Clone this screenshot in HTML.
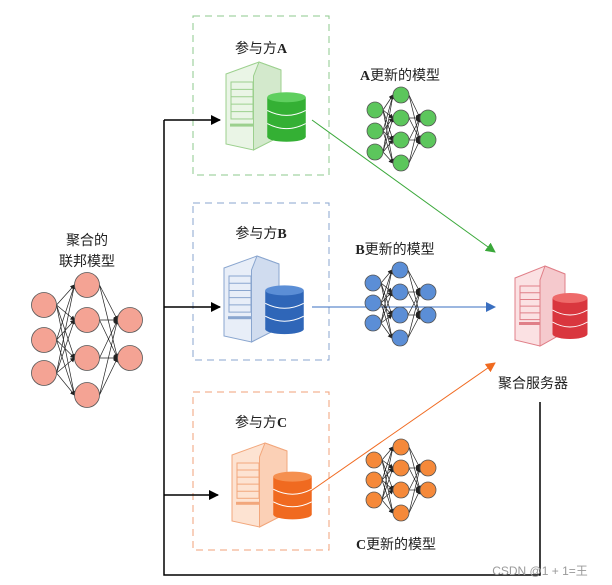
<!DOCTYPE html>
<html><head><meta charset="utf-8"><style>
body{margin:0;background:#fff;width:612px;height:585px;overflow:hidden}
svg{display:block}
text{font-family:"Liberation Serif","Noto Sans CJK SC",sans-serif;font-size:14px;fill:#222}
</style></head><body>
<svg id="s" width="612" height="585" viewBox="0 0 612 585" xmlns="http://www.w3.org/2000/svg">
<defs>
<marker id="ak" markerWidth="10" markerHeight="10" refX="9" refY="5" orient="auto" markerUnits="userSpaceOnUse"><path d="M0,0 L10,5 L0,10 z" fill="#000"/></marker>
<marker id="ag" markerWidth="10" markerHeight="10" refX="9" refY="5" orient="auto" markerUnits="userSpaceOnUse"><path d="M0,0 L10,5 L0,10 z" fill="#3aa83a"/></marker>
<marker id="ab" markerWidth="10" markerHeight="10" refX="9" refY="5" orient="auto" markerUnits="userSpaceOnUse"><path d="M0,0 L10,5 L0,10 z" fill="#3a6fc0"/></marker>
<marker id="ao" markerWidth="10" markerHeight="10" refX="9" refY="5" orient="auto" markerUnits="userSpaceOnUse"><path d="M0,0 L10,5 L0,10 z" fill="#f06a20"/></marker>
<marker id="sm" markerWidth="5" markerHeight="5" refX="4" refY="2.5" orient="auto" markerUnits="userSpaceOnUse"><path d="M0,0 L5,2.5 L0,5 z" fill="#222"/></marker>
</defs>
<rect x="193" y="16" width="136" height="159" fill="none" stroke="#8cc98c" stroke-dasharray="7,5"/>
<rect x="193" y="203" width="136" height="157" fill="none" stroke="#8aa6cf" stroke-dasharray="7,5"/>
<rect x="193" y="392" width="136" height="158" fill="none" stroke="#f0a07a" stroke-dasharray="7,5"/>
<path d="M164,120 V575 H540 V402" fill="none" stroke="#000" stroke-width="1.5"/>
<line x1="164" y1="120" x2="220" y2="120" stroke="#000" stroke-width="1.5" marker-end="url(#ak)"/>
<line x1="164" y1="307" x2="220" y2="307" stroke="#000" stroke-width="1.5" marker-end="url(#ak)"/>
<line x1="164" y1="495" x2="218" y2="495" stroke="#000" stroke-width="1.5" marker-end="url(#ak)"/>
<line x1="312" y1="120" x2="495" y2="252" stroke="#3aa83a" marker-end="url(#ag)"/>
<line x1="312" y1="307" x2="495" y2="307" stroke="#3a6fc0" marker-end="url(#ab)"/>
<line x1="305" y1="495" x2="495" y2="363" stroke="#f06a20" marker-end="url(#ao)"/>
<text x="261" y="53" text-anchor="middle">参与方<tspan font-weight="bold">A</tspan></text>
<text x="261" y="238" text-anchor="middle">参与方<tspan font-weight="bold">B</tspan></text>
<text x="261" y="427" text-anchor="middle">参与方<tspan font-weight="bold">C</tspan></text>
<text x="400" y="80" text-anchor="middle"><tspan font-weight="bold">A</tspan>更新的模型</text>
<text x="395" y="254" text-anchor="middle"><tspan font-weight="bold">B</tspan>更新的模型</text>
<text x="396" y="549" text-anchor="middle"><tspan font-weight="bold">C</tspan>更新的模型</text>
<text x="87" y="245" text-anchor="middle">聚合的</text>
<text x="87" y="266" text-anchor="middle">联邦模型</text>
<text x="533" y="388" text-anchor="middle">聚合服务器</text>
<text x="540" y="575" text-anchor="middle" style="font-family:'Liberation Sans','Noto Sans CJK SC',sans-serif;font-size:12px;fill:#999">CSDN @1 + 1=王</text>
<g id="g"></g>
</svg>
<script>
var g=document.getElementById('g'),NS="http://www.w3.org/2000/svg";
function el(t,a){var e=document.createElementNS(NS,t);for(var k in a)e.setAttribute(k,a[k]);g.appendChild(e);return e;}
function net(cols,r,fill){
 for(var c=0;c<cols.length-1;c++){var A=cols[c],B=cols[c+1];
  A.y.forEach(function(y1){B.y.forEach(function(y2){
   el('line',{x1:A.x+r,y1:y1,x2:B.x-r,y2:y2,stroke:'#222','stroke-width':0.7,'marker-end':'url(#sm)'});});});}
 cols.forEach(function(C){C.y.forEach(function(y){el('circle',{cx:C.x,cy:y,r:r,fill:fill,stroke:'#555','stroke-width':0.8});});});
}
net([{x:44,y:[305,340,373]},{x:87,y:[285,320,358,395]},{x:130,y:[320,358]}],12.5,'#f4a394');
net([{x:375,y:[110,131,152]},{x:401,y:[95,118,140,163]},{x:428,y:[118,140]}],8,'#5cc65c');
net([{x:373,y:[283,303,323]},{x:400,y:[270,292,315,338]},{x:428,y:[292,315]}],8,'#5b8ed6');
net([{x:374,y:[460,480,500]},{x:401,y:[447,468,490,513]},{x:428,y:[468,490]}],8,'#f5893a');
function server(x,y,w,h,light,mid,edge,db1,db2){
 el('path',{d:'M'+x+','+(y+12)+' L'+(x+w*0.6)+','+y+' L'+(x+w)+','+(y+8)+' L'+(x+w)+','+(y+h-14)+' L'+(x+w*0.5)+','+(y+h)+' L'+x+','+(y+h-6)+' Z',fill:light,stroke:edge,'stroke-width':1});
 el('path',{d:'M'+(x+w*0.6)+','+y+' L'+(x+w)+','+(y+8)+' L'+(x+w)+','+(y+h-14)+' L'+(x+w*0.5)+','+(y+h)+' L'+(x+w*0.5)+','+(y+14)+' Z',fill:mid,stroke:edge,'stroke-width':1});
 el('rect',{x:x+5,y:y+20,width:w*0.4,height:h*0.42,fill:'none',stroke:edge,'stroke-width':1});
 for(var i=1;i<5;i++)el('line',{x1:x+5,y1:y+20+i*h*0.084,x2:x+5+w*0.4,y2:y+20+i*h*0.084,stroke:edge,'stroke-width':1});
 el('rect',{x:x+4,y:y+h*0.7,width:w*0.42,height:3,fill:edge});
 var dx=x+w*0.75,dw=w*0.7,dy=y+h*0.4,dh=h*0.45;
 el('rect',{x:dx,y:dy,width:dw,height:dh,fill:db1});
 el('ellipse',{cx:dx+dw/2,cy:dy+dh,rx:dw/2,ry:5,fill:db1});
 el('ellipse',{cx:dx+dw/2,cy:dy,rx:dw/2,ry:5,fill:db2});
 for(var j=1;j<3;j++)el('path',{d:'M'+dx+','+(dy+dh*j/3)+' Q'+(dx+dw/2)+','+(dy+dh*j/3+10)+' '+(dx+dw)+','+(dy+dh*j/3),fill:'none',stroke:'#fff','stroke-width':1});
}
server(226,62,55,88,'#eaf5e6','#d3e9cc','#9cd08e','#34b034','#5fcf5f');
server(224,256,55,86,'#e8eef8','#d0dcef','#8aa6cf','#2f66b8','#5b8ed6');
server(232,443,55,84,'#fde3d2','#fbd0b6','#f2a77c','#f06a20','#f59050');
server(515,266,50,80,'#fbe1e3','#f5c9cd','#e07f88','#d9363e','#ee6a6a');
</script>
</body></html>
